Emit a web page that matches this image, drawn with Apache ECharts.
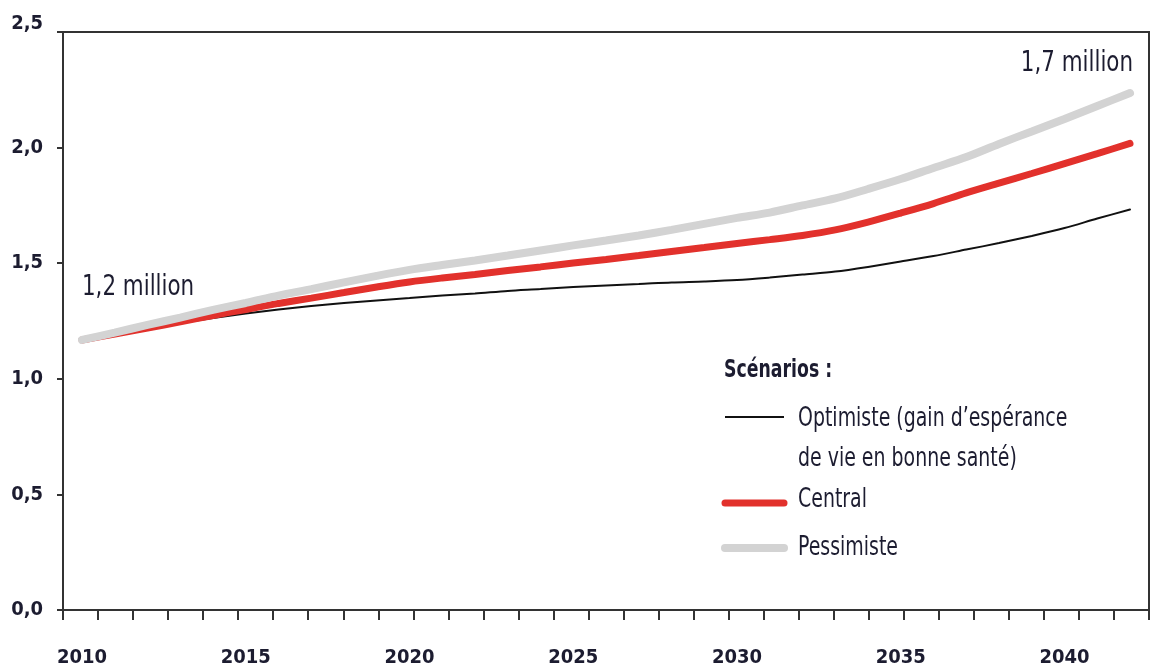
<!DOCTYPE html>
<html><head><meta charset="utf-8">
<script src="https://cdn.jsdelivr.net/npm/echarts@6/dist/echarts.min.js"></script>
<style>html,body{margin:0;padding:0;background:#fff}#c{width:1152px;height:668px}</style>
</head><body><div id="c"></div>
<script>
const years = [2010,2011,2012,2013,2014,2015,2016,2017,2018,2019,2020,2021,2022,2023,2024,2025,2026,2027,2028,2029,2030,2031,2032,2033,2034,2035,2036,2037,2038,2039,2040,2041,2042];
const optimiste = [1.168,1.194,1.218,1.241,1.263,1.282,1.300,1.315,1.328,1.339,1.349,1.360,1.369,1.380,1.388,1.397,1.404,1.410,1.417,1.421,1.427,1.438,1.451,1.464,1.484,1.507,1.531,1.559,1.587,1.618,1.652,1.693,1.732];
const central = [1.168,1.194,1.220,1.246,1.274,1.300,1.326,1.349,1.373,1.397,1.419,1.436,1.451,1.468,1.484,1.501,1.516,1.533,1.551,1.568,1.585,1.602,1.620,1.644,1.678,1.717,1.758,1.804,1.846,1.888,1.931,1.974,2.018];
const pessimiste = [1.168,1.200,1.233,1.265,1.298,1.328,1.360,1.388,1.417,1.445,1.471,1.492,1.512,1.533,1.555,1.577,1.598,1.620,1.644,1.670,1.696,1.719,1.750,1.780,1.821,1.864,1.912,1.959,2.016,2.070,2.124,2.180,2.236];
const seriesNames = ['Optimiste (gain d\u2019espérance\nde vie en bonne santé)', 'Central', 'Pessimiste'];
const legendTitle = 'Scénarios :';
const yTickLabels = ['0,0','0,5','1,0','1,5','2,0','2,5'];
const xTickLabels = ['2010','2015','2020','2025','2030','2035','2040'];
const tickSlotCount = 31;
const startNote = '1,2 million';
const endNote = '1,7 million';

const FONT = "'Liberation Sans Narrow','DejaVu Sans Condensed','Roboto Condensed',sans-serif";
const TXT = '#1c1c30';
const AX = '#333';
const colors = ['#111111', '#e2312c', '#d3d3d3'];
const widths = [2, 7, 8];

const chart = echarts.init(document.getElementById('c'), null, {renderer: 'canvas'});
const pairs = arr => years.map((y, i) => [y, arr[i]]);

const legendItems = [];
const rowsY = [417, 503, 548];
const textY = [419, 500, 548];
seriesNames.forEach((n, i) => {
  legendItems.push({type: 'line', shape: {x1: 725, y1: rowsY[i], x2: 784, y2: rowsY[i]},
    style: {stroke: colors[i], lineWidth: widths[i], lineCap: i ? 'round' : 'butt'}});
  legendItems.push({type: 'text', x: 798, y: textY[i] - 20, scaleX: 0.81,
    style: {text: n, font: '26px ' + FONT, fill: TXT, lineHeight: 40, textVerticalAlign: 'top'}});
});

chart.setOption({
  animation: false,
  backgroundColor: '#fff',
  grid: {left: 63, right: 3, top: 32, bottom: 58, show: true, borderColor: AX, borderWidth: 2},
  xAxis: [{
    type: 'value', min: 2009.42, max: 2042.58, minInterval: 5, maxInterval: 5,
    axisLine: {show: false}, axisTick: {show: false}, splitLine: {show: false},
    axisLabel: {show: true, margin: 38, showMinLabel: false, showMaxLabel: false,
      fontFamily: FONT, fontWeight: 'bold', fontSize: 20, color: TXT,
      formatter: v => xTickLabels.includes(String(Math.round(v))) && Math.abs(v - Math.round(v)) < 1e-6 ? String(Math.round(v)) : ''}
  }, {
    type: 'category', boundaryGap: true, position: 'bottom',
    data: Array.from({length: tickSlotCount}, () => ''),
    axisLine: {show: true, lineStyle: {color: AX, width: 2}},
    axisTick: {show: true, length: 10, lineStyle: {color: AX, width: 2}},
    axisLabel: {show: false}, splitLine: {show: false}
  }],
  yAxis: {
    type: 'value', min: 0, max: 2.5, interval: 0.5,
    axisLine: {show: true, lineStyle: {color: AX, width: 2}},
    axisTick: {show: true, length: 6, lineStyle: {color: AX, width: 2}},
    splitLine: {show: false},
    axisLabel: {margin: 20, fontFamily: FONT, fontWeight: 'bold', fontSize: 20, color: TXT,
      formatter: v => { const i = Math.round(v / 0.5); return i === 5 ? '{t|' + yTickLabels[i] + '}' : yTickLabels[i]; },
      rich: {t: {fontFamily: FONT, fontWeight: 'bold', fontSize: 20, color: TXT, padding: [0, 0, 16, 0]}}}
  },
  series: [optimiste, central, pessimiste].map((arr, i) => ({
    name: seriesNames[i], type: 'line', xAxisIndex: 0, data: pairs(arr),
    smooth: 0.3, showSymbol: false, symbol: 'none',
    lineStyle: {color: colors[i], width: widths[i], cap: 'round'}, z: 2 + i
  })),
  graphic: [
    {type: 'text', x: 82, y: 288, scaleX: 0.85, style: {text: startNote, font: '28px ' + FONT, fill: TXT, textVerticalAlign: 'middle'}},
    {type: 'text', x: 1133, y: 64, scaleX: 0.85, style: {text: endNote, font: '28px ' + FONT, fill: TXT, textAlign: 'right', textVerticalAlign: 'middle'}},
    {type: 'text', x: 724, y: 370, scaleX: 0.77, style: {text: legendTitle, font: 'bold 25px ' + FONT, fill: TXT, textVerticalAlign: 'middle'}},
    ...legendItems
  ]
});
</script></body></html>
